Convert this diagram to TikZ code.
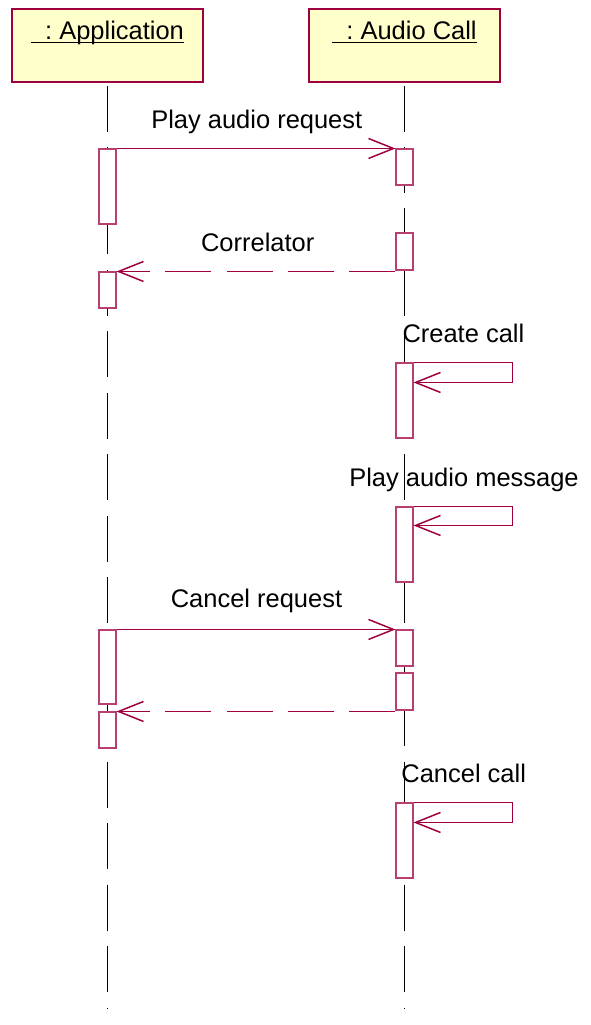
\documentclass[tikz,border=0pt]{standalone}
\usepackage{fontspec}
\setmainfont{Liberation Sans}
\usetikzlibrary{arrows.meta}
\definecolor{umlmaroon}{RGB}{160,0,64}
\definecolor{umlyellow}{RGB}{255,255,204}
\tikzset{
  objbox/.style={draw=umlmaroon, fill=umlyellow, line width=0.8pt, minimum width=143.25pt, minimum height=54.75pt, inner sep=0pt},
  actbox/.style={draw=umlmaroon!75, fill=white, line width=0.8pt, minimum width=12.75pt, inner sep=0pt},
  lifeline/.style={line width=0.75pt, dash pattern=on 34.5pt off 11.6pt},
  msg/.style={draw=umlmaroon, line width=0.75pt, -{Straight Barb[length=18.75pt,width=15pt,line width=1.1pt]}},
  reply/.style={msg, dash pattern=on 34.5pt off 11.5pt},
  lbl/.style={font=\fontsize{19.1}{23}\selectfont, inner sep=0pt, anchor=base},
}
\begin{document}
\begin{tikzpicture}[x=0.75pt,y=0.75pt,yscale=-1,xscale=1]
\useasboundingbox (0,0) rectangle (590,1025);

%Shape: Rectangle
\node[objbox] (app) at (107.5,45.5) {};
%Shape: Rectangle
\node[objbox] (aud) at (404.5,45.5) {};
% Text Node
\node[lbl] (apptitle) at (107.5,39) {\ \ :\ Application};
\draw[line width=1.4pt] ([yshift=2.6pt]apptitle.base west) -- ([yshift=2.6pt]apptitle.base east);
% Text Node
\node[lbl] (audtitle) at (404.5,39) {\ \ :\ Audio Call};
\draw[line width=1.4pt] ([yshift=2.6pt]audtitle.base west) -- ([yshift=2.6pt]audtitle.base east);

%Straight Lines
\coordinate (append) at (107.5,1008);
\coordinate (audend) at (404.5,1008);
\draw[lifeline] ([yshift=2.25pt]app.south) -- (append);
\draw[lifeline] ([yshift=2.25pt]aud.south) -- (audend);

%Shape: Rectangle
\node[actbox, minimum height=56.25pt] (A1) at (107.5,186.5) {};
\node[actbox, minimum height=27pt] (A2) at (107.5,290) {};
\node[actbox, minimum height=55.5pt] (A3) at (107.5,667) {};
\node[actbox, minimum height=27pt] (A4) at (107.5,730) {};
%Shape: Rectangle
\node[actbox, minimum height=27pt] (B1) at (404.5,167) {};
\node[actbox, minimum height=27.75pt] (B2) at (404.5,251.5) {};
\node[actbox, minimum height=56.25pt] (B3) at (404.5,400.5) {};
\node[actbox, minimum height=56.25pt] (B4) at (404.5,544.5) {};
\node[actbox, minimum height=27pt] (B5) at (404.5,648) {};
\node[actbox, minimum height=27.75pt] (B6) at (404.5,691.5) {};
\node[actbox, minimum height=56.25pt] (B7) at (404.5,840.5) {};

%Straight Lines
\draw[msg] (A1.north east) -- (B1.north west);
\draw[reply] (B2.south west |- A2.north) -- (A2.north east);
\coordinate (B3in) at ([yshift=15pt]B3.north east);
\draw[msg] (B3.north east) -- ++(99,0) |- (B3in);
\coordinate (B4in) at ([yshift=14.25pt]B4.north east);
\draw[msg] (B4.north east) -- ++(99,0) |- (B4in);
\draw[msg] (A3.north east) -- (B5.north west);
\draw[reply] (B6.south west |- A4.north) -- (A4.north east);
\coordinate (B7in) at ([yshift=15pt]B7.north east);
\draw[msg] (B7.north east) -- ++(99,0) |- (B7in);

% Text Node
\node[lbl] (playreq) at (256.8,128.3) {Play audio request};
% Text Node
\node[lbl] (correl) at (257.7,251.7) {Correlator};
% Text Node
\node[lbl] (create) at (463.4,342.7) {Create call};
% Text Node
\node[lbl] (playmsg) at (464,486) {Play audio message};
% Text Node
\node[lbl] (cancelreq) at (256.5,607.3) {Cancel request};
% Text Node
\node[lbl] (cancelcall) at (463.7,782.7) {Cancel call};
\end{tikzpicture}
\end{document}
